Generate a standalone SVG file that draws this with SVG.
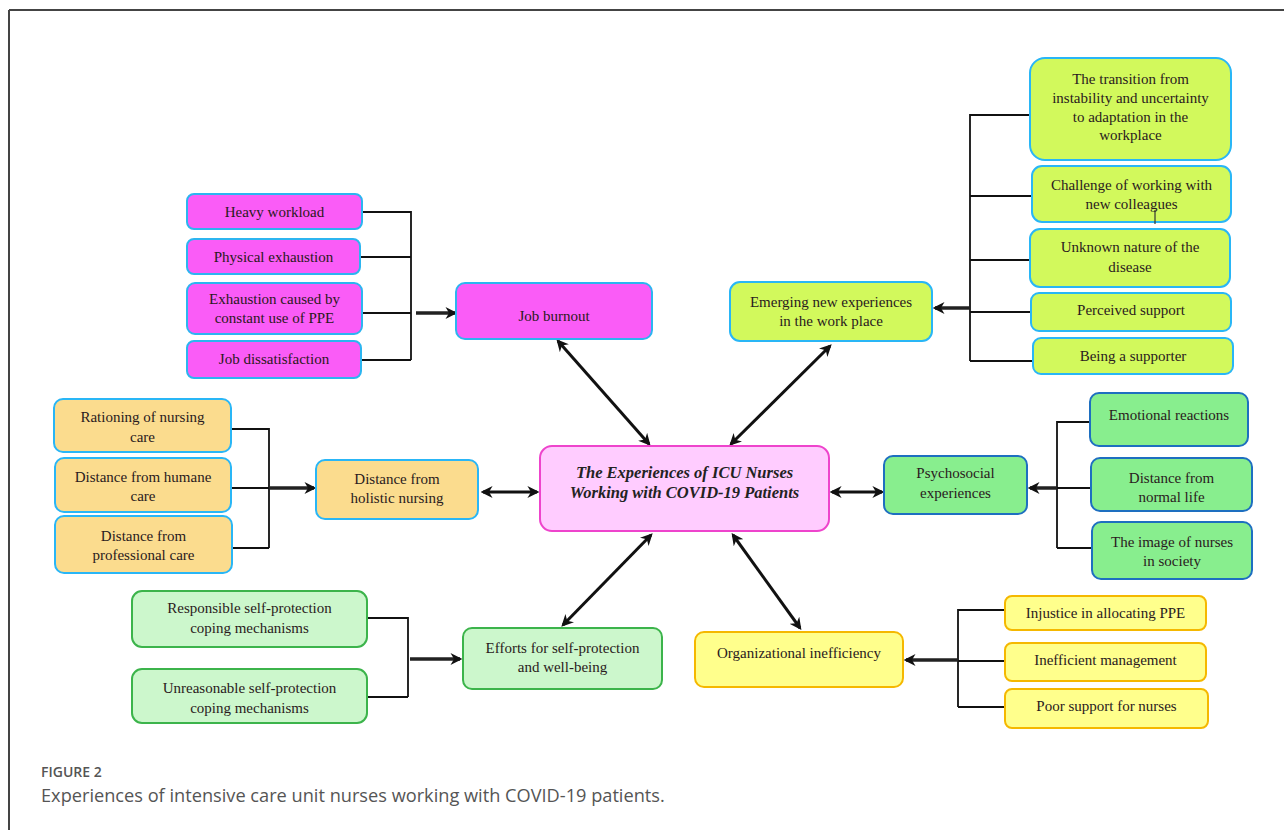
<svg xmlns="http://www.w3.org/2000/svg" width="1284" height="830" viewBox="0 0 1284 830">
<defs>
<marker id="ah" viewBox="0 0 10 10" refX="8" refY="5" markerWidth="4" markerHeight="4" orient="auto-start-reverse">
<path d="M0,0 L10,5 L0,10 L3,5 z" fill="#111"/>
</marker>
<marker id="ahb" viewBox="0 0 10 10" refX="8" refY="5" markerWidth="4" markerHeight="3.4" orient="auto">
<path d="M0,0 L10,5 L0,10 L3,5 z" fill="#111"/>
</marker>
</defs>
<style>
.t{font-family:"Liberation Serif","Times New Roman",serif;font-size:15px;fill:#2a1a20;text-anchor:middle}
.c{font-family:"Liberation Serif","Times New Roman",serif;font-size:16.5px;font-weight:bold;font-style:italic;fill:#222;text-anchor:middle}
.br{fill:none;stroke:#111;stroke-width:1.8}
.ar{fill:none;stroke:#222;stroke-width:3.5;marker-end:url(#ahb)}
.da{fill:none;stroke:#111;stroke-width:3;marker-start:url(#ah);marker-end:url(#ah)}
.mag{fill:#FA5CF7;stroke:#2CB5F0;stroke-width:2}
.lime{fill:#D2F95C;stroke:#29B6F6;stroke-width:2}
.peach{fill:#FBDC8E;stroke:#29B6F6;stroke-width:2}
.cen{fill:#FFCCFF;stroke:#EE44CC;stroke-width:2}
.grn{fill:#88EE8E;stroke:#1E6FC0;stroke-width:2}
.lg{fill:#CCF7CC;stroke:#3CB44B;stroke-width:2}
.yel{fill:#FFFF8C;stroke:#F5B800;stroke-width:2}
.cap1{font-family:"Open Sans","Liberation Sans",sans-serif;font-size:14px;font-weight:600;fill:#555}
.cap2{font-family:"Open Sans","Liberation Sans",sans-serif;font-size:18.2px;fill:#555}
</style>
<rect x="0" y="0" width="1284" height="830" fill="#fff"/>
<g id="frame">
<line x1="9" y1="10" x2="1284" y2="10" stroke="#444" stroke-width="2"/>
<line x1="9" y1="10" x2="9" y2="830" stroke="#444" stroke-width="2"/>
</g>
<g id="connectors">
<path class="br" d="M362,212 H411 V360 M360,257 H411 M362,313 H411 M361,360 H411"/>
<line class="ar" x1="416" y1="313" x2="455" y2="313"/>
<path class="br" d="M1030,115 H970 V361 M1032,196 H970 M1030,260 H970 M1031,312 H970 M1033,361 H970"/>
<line class="ar" x1="970" y1="308" x2="935" y2="308"/>
<path class="br" d="M231,429 H269 V548 M231,488 H269 M232,548 H269"/>
<line class="ar" x1="269" y1="488" x2="314" y2="488"/>
<path class="br" d="M1090,422 H1057 V548 M1091,488 H1057 M1092,548 H1057"/>
<line class="ar" x1="1057" y1="488" x2="1030" y2="488"/>
<path class="br" d="M367,618 H408 V697 M367,697 H408"/>
<line class="ar" x1="410" y1="659" x2="460" y2="659"/>
<path class="br" d="M1005,610 H958 V707 M1005,661 H958 M1005,707 H958"/>
<line class="ar" x1="958" y1="660" x2="906" y2="660"/>
<line class="da" x1="649" y1="444" x2="558" y2="341"/>
<line class="da" x1="731" y1="444" x2="830" y2="346"/>
<line class="da" x1="483" y1="492" x2="537" y2="492"/>
<line class="da" x1="832" y1="492" x2="882" y2="492"/>
<line class="da" x1="651" y1="535" x2="563" y2="625"/>
<line class="da" x1="733" y1="535" x2="800" y2="628"/>
</g>
<g id="center">
<rect class="cen" x="540" y="446" width="289" height="85" rx="12"/>
<text class="c" x="684.5" y="478">The Experiences of ICU Nurses</text>
<text class="c" x="684.5" y="498">Working with COVID-19 Patients</text>
</g>
<g id="job-burnout">
<rect class="mag" x="456" y="283" width="196" height="56" rx="9"/>
<text class="t" x="554" y="321">Job burnout</text>
</g>
<g id="heavy-workload">
<rect class="mag" x="187" y="194" width="175" height="35" rx="7"/>
<text class="t" x="274.5" y="217">Heavy workload</text>
</g>
<g id="physical-exhaustion">
<rect class="mag" x="187" y="239" width="173" height="35" rx="7"/>
<text class="t" x="273.5" y="262">Physical exhaustion</text>
</g>
<g id="exhaustion-ppe">
<rect class="mag" x="187" y="283" width="175" height="51" rx="8"/>
<text class="t" x="274.5" y="304">Exhaustion caused by</text>
<text class="t" x="274.5" y="323">constant use of PPE</text>
</g>
<g id="job-dissatisfaction">
<rect class="mag" x="187" y="341" width="174" height="37" rx="7"/>
<text class="t" x="274" y="364">Job dissatisfaction</text>
</g>
<g id="emerging">
<rect class="lime" x="730" y="282" width="202" height="59" rx="10"/>
<text class="t" x="831" y="307">Emerging new experiences</text>
<text class="t" x="831" y="326">in the work place</text>
</g>
<g id="transition">
<rect class="lime" x="1030" y="58" width="201" height="102" rx="15"/>
<text class="t" x="1130.5" y="84">The transition from</text>
<text class="t" x="1130.5" y="103">instability and uncertainty</text>
<text class="t" x="1130.5" y="122">to adaptation in the</text>
<text class="t" x="1130.5" y="140">workplace</text>
</g>
<g id="challenge">
<rect class="lime" x="1032" y="166" width="199" height="56" rx="10"/>
<text class="t" x="1131.5" y="190">Challenge of working with</text>
<text class="t" x="1131.5" y="209">new colleagues</text>
<line x1="1155" y1="210" x2="1155" y2="224" stroke="#333" stroke-width="1.2"/>
</g>
<g id="unknown">
<rect class="lime" x="1030" y="229" width="200" height="58" rx="10"/>
<text class="t" x="1130" y="252">Unknown nature of the</text>
<text class="t" x="1130" y="272">disease</text>
</g>
<g id="perceived-support">
<rect class="lime" x="1031" y="293" width="200" height="38" rx="8"/>
<text class="t" x="1131" y="315">Perceived support</text>
</g>
<g id="being-supporter">
<rect class="lime" x="1033" y="338" width="200" height="36" rx="8"/>
<text class="t" x="1133" y="361">Being a supporter</text>
</g>
<g id="holistic">
<rect class="peach" x="316" y="460" width="162" height="59" rx="9"/>
<text class="t" x="397" y="484">Distance from</text>
<text class="t" x="397" y="503">holistic nursing</text>
</g>
<g id="rationing">
<rect class="peach" x="54" y="399" width="177" height="53" rx="9"/>
<text class="t" x="142.5" y="422">Rationing of nursing</text>
<text class="t" x="142.5" y="442">care</text>
</g>
<g id="humane">
<rect class="peach" x="55" y="458" width="176" height="54" rx="9"/>
<text class="t" x="143" y="482">Distance from humane</text>
<text class="t" x="143" y="501">care</text>
</g>
<g id="professional">
<rect class="peach" x="55" y="516" width="177" height="57" rx="9"/>
<text class="t" x="143.5" y="541">Distance from</text>
<text class="t" x="143.5" y="560">professional care</text>
</g>
<g id="psychosocial">
<rect class="grn" x="884" y="456" width="143" height="58" rx="9"/>
<text class="t" x="955.5" y="478">Psychosocial</text>
<text class="t" x="955.5" y="498">experiences</text>
</g>
<g id="emotional">
<rect class="grn" x="1090" y="393" width="158" height="53" rx="9"/>
<text class="t" x="1169" y="420">Emotional reactions</text>
</g>
<g id="normal-life">
<rect class="grn" x="1091" y="458" width="161" height="53" rx="9"/>
<text class="t" x="1171.5" y="483">Distance from</text>
<text class="t" x="1171.5" y="502">normal life</text>
</g>
<g id="image-nurses">
<rect class="grn" x="1092" y="522" width="160" height="57" rx="9"/>
<text class="t" x="1172" y="547">The image of nurses</text>
<text class="t" x="1172" y="566">in society</text>
</g>
<g id="efforts">
<rect class="lg" x="463" y="628" width="199" height="61" rx="9"/>
<text class="t" x="562.5" y="653">Efforts for self-protection</text>
<text class="t" x="562.5" y="672">and well-being</text>
</g>
<g id="responsible">
<rect class="lg" x="132" y="591" width="235" height="56" rx="10"/>
<text class="t" x="249.5" y="613">Responsible self-protection</text>
<text class="t" x="249.5" y="633">coping mechanisms</text>
</g>
<g id="unreasonable">
<rect class="lg" x="132" y="669" width="235" height="54" rx="10"/>
<text class="t" x="249.5" y="693">Unreasonable self-protection</text>
<text class="t" x="249.5" y="713">coping mechanisms</text>
</g>
<g id="organizational">
<rect class="yel" x="695" y="632" width="208" height="55" rx="9"/>
<text class="t" x="799" y="658">Organizational inefficiency</text>
</g>
<g id="injustice">
<rect class="yel" x="1005" y="596" width="201" height="34" rx="7"/>
<text class="t" x="1105.5" y="618">Injustice in allocating PPE</text>
</g>
<g id="inefficient">
<rect class="yel" x="1005" y="643" width="201" height="38" rx="7"/>
<text class="t" x="1105.5" y="665">Inefficient management</text>
</g>
<g id="poor-support">
<rect class="yel" x="1005" y="689" width="203" height="39" rx="7"/>
<text class="t" x="1106.5" y="711">Poor support for nurses</text>
</g>
<g id="caption">
<text class="cap1" x="41" y="777">FIGURE 2</text>
<text class="cap2" x="41" y="802">Experiences of intensive care unit nurses working with COVID-19 patients.</text>
</g>
</svg>
